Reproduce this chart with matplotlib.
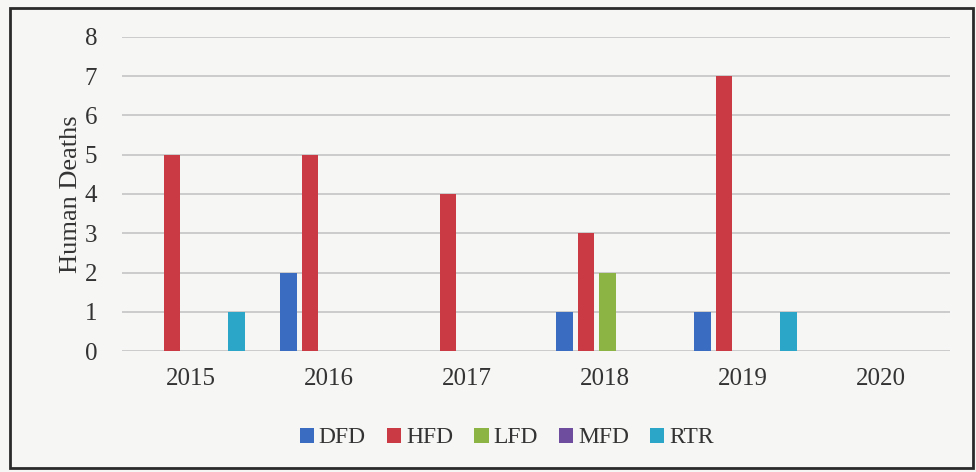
import numpy as np
import matplotlib.pyplot as plt
from matplotlib.patches import Rectangle

years = ["2015", "2016", "2017", "2018", "2019", "2020"]
series = ["DFD", "HFD", "LFD", "MFD", "RTR"]
dfd = [0, 2, 0, 1, 1, 0]
hfd = [5, 5, 4, 3, 7, 0]
lfd = [0, 0, 0, 2, 0, 0]
mfd = [0, 0, 0, 0, 0, 0]
rtr = [1, 0, 0, 0, 1, 0]
colors = ["#3a6cc2", "#c93a44", "#8cb445", "#6e4c9e", "#2ba6c8"]

plt.rcParams['font.family'] = ['Liberation Serif', 'DejaVu Serif']

fig = plt.figure(figsize=(9.76, 4.72), dpi=100, facecolor="#f6f6f4")
ax = fig.add_axes([0.125, 0.256, 0.848, 0.666])
ax.set_facecolor("none")

x = np.arange(len(years))
step = 0.156
width = 0.12
for i, (name, vals) in enumerate(zip(series, [dfd, hfd, lfd, mfd, rtr])):
    ax.bar(x + (i - 2) * step + 0.02, vals, width, color=colors[i], label=name, zorder=3)

ax.set_xlim(-0.5, len(years) - 0.5)
ax.set_ylim(0, 8)
ax.set_yticks(range(0, 9))
ax.set_xticks(x)
ax.set_xticklabels(years)
ax.grid(axis="y", color="#c4c4c4", linewidth=1.2, zorder=0)
ax.tick_params(length=0, labelsize=18, colors="#333333")
ax.tick_params(axis="x", pad=12)
ax.tick_params(axis="y", pad=18)
for s in ax.spines.values():
    s.set_visible(False)
ax.set_ylabel("Human Deaths", fontsize=19, color="#333333", labelpad=2)

ax.legend(loc="upper center", bbox_to_anchor=(0.465, -0.175), ncol=5, frameon=False,
          fontsize=17, handlelength=0.6, handleheight=0.6, handletextpad=0.2,
          columnspacing=0.9, labelcolor="#333333")

fig.patches.append(Rectangle((10 / 976, 1 - 468 / 472), 963 / 976, 460 / 472,
                             transform=fig.transFigure, fill=False,
                             edgecolor="#2a2a2a", linewidth=2))

fig.savefig("out.png", dpi=100, facecolor=fig.get_facecolor())
